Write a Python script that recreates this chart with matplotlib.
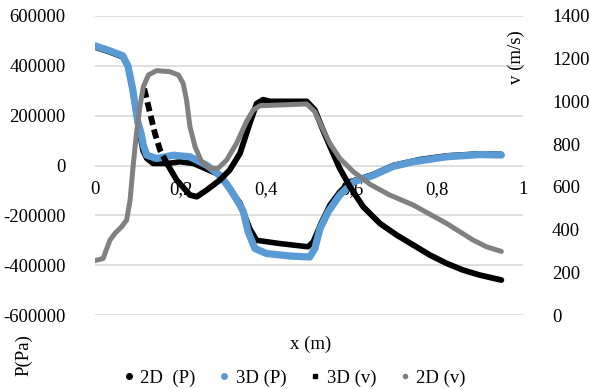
import numpy as np
import matplotlib
matplotlib.use("Agg")
import matplotlib.pyplot as plt
from matplotlib.lines import Line2D

plt.rcParams['font.family'] = ['Liberation Serif', 'DejaVu Serif']
plt.rcParams['font.size'] = 13.5

# 2D (P) - pressure, left axis (black, mostly under 3D (P))
x_p2d = [0.0, 0.035, 0.065, 0.077, 0.088, 0.100, 0.112, 0.121, 0.136, 0.168, 0.199, 0.230,
         0.284, 0.308, 0.331, 0.339, 0.362, 0.378, 0.432, 0.498, 0.510, 0.530, 0.549, 0.572,
         0.596, 0.650, 0.696, 0.759, 0.822, 0.900, 0.950]
p_2d = [475000, 455000, 435000, 395000, 300000, 170000, 60000, 28000, 8000, 8000, 15000, 8000,
        -32000, -72000, -132000, -150000, -253000, -300000, -313000, -326000, -306000, -226000,
        -159000, -106000, -65000, -36000, 0, 24000, 39000, 47000, 45000]

# 3D (P) - pressure, left axis (blue)
x_p3d = [0.0, 0.035, 0.065, 0.077, 0.088, 0.100, 0.109, 0.113, 0.121, 0.144, 0.183, 0.222,
         0.261, 0.292, 0.315, 0.339, 0.347, 0.358, 0.374, 0.401, 0.456, 0.502, 0.514, 0.526,
         0.545, 0.572, 0.604, 0.650, 0.696, 0.744, 0.822, 0.900, 0.950]
p_3d = [480000, 460000, 440000, 400000, 308000, 176000, 120000, 81500, 41400, 28100, 41400, 34900,
        1300, -39000, -92400, -159000, -186000, -266000, -333000, -353000, -363000, -367000,
        -333000, -253000, -186000, -119000, -65500, -40000, -4000, 15000, 35000, 44000, 42000]

# 3D (v) - velocity, right axis (black squares; sparse points at the start)
x_v3d_a = [0.115, 0.140, 0.152, 0.168]
v_3d_a = [1060, 851, 773, 710]
x_v3d_b = [0.168, 0.191, 0.222, 0.238, 0.261, 0.292, 0.315, 0.339, 0.362, 0.378, 0.393, 0.409,
           0.495, 0.514, 0.533, 0.553, 0.572, 0.596, 0.627, 0.666, 0.705, 0.744, 0.783, 0.822,
           0.860, 0.900, 0.950]
v_3d_b = [710, 632, 562, 554, 585, 632, 679, 757, 898, 990, 1008, 1000,
          1000, 960, 866, 773, 687, 601, 507, 429, 375, 328, 281, 242,
          211, 187, 164]

# 2D (v) - velocity, right axis (grey)
x_v2d = [0.0, 0.019, 0.035, 0.047, 0.062, 0.074, 0.082, 0.089, 0.097, 0.105, 0.113, 0.125,
         0.144, 0.175, 0.195, 0.206, 0.214, 0.222, 0.234, 0.249, 0.269, 0.288, 0.308, 0.331,
         0.354, 0.370, 0.386, 0.495, 0.514, 0.530, 0.549, 0.572, 0.604, 0.643, 0.689, 0.744,
         0.822, 0.853, 0.884, 0.915, 0.950]
v_2d = [255, 265, 351, 383, 413, 445, 538, 694, 851, 975, 1069, 1124,
        1144, 1139, 1124, 1085, 1007, 882, 788, 718, 687, 687, 726, 804,
        905, 960, 980, 988, 952, 882, 804, 734, 671, 612, 562, 515,
        429, 390, 351, 320, 298]

xticks = [0, 0.2, 0.4, 0.6, 0.8, 1.0]
xtick_labels = ["0", "0,2", "0,4", "0,6", "0,8", "1"]
p_ticks = [-600000, -400000, -200000, 0, 200000, 400000, 600000]
v_ticks = [0, 200, 400, 600, 800, 1000, 1200, 1400]

blue = '#5B9BD5'
grey = '#808080'

fig = plt.figure(figsize=(5.9, 3.89), dpi=100)
ax = fig.add_axes([0.161, 0.190, 0.725, 0.769])
ax2 = ax.twinx()

ax.set_xlim(0, 1)
ax.set_ylim(-600000, 600000)
ax2.set_ylim(0, 1400)

ax.set_yticks(p_ticks)
ax.set_yticklabels([str(t) for t in p_ticks])
ax2.set_yticks(v_ticks)
ax2.set_yticklabels([str(t) for t in v_ticks])
ax.set_xticks(xticks)
ax.set_xticklabels(xtick_labels)

for a in (ax, ax2):
    for s in a.spines.values():
        s.set_visible(False)
ax.spines['bottom'].set_position(('data', 0))
ax.tick_params(axis='x', length=0, pad=11)
ax.tick_params(axis='y', length=0, pad=21)
ax2.tick_params(axis='y', length=0, pad=21)
ax.grid(axis='y', color='#d9d9d9', linewidth=1.2)
ax.set_axisbelow(True)

ax.plot(x_p2d, p_2d, color='black', lw=4, solid_capstyle='round', zorder=2)
ax.plot(x_p3d, p_3d, color=blue, lw=5.2, solid_capstyle='round', zorder=3)
ax.set_zorder(1)
ax2.set_zorder(2)
ax2.patch.set_visible(False)
ax2.plot(x_v3d_a, v_3d_a, color='black', lw=4.2, linestyle=(0, (1.6, 0.8)), zorder=3)
ax2.plot(x_v3d_b, v_3d_b, color='black', lw=4.2, solid_capstyle='round', zorder=3)
ax2.plot(x_v2d, v_2d, color=grey, lw=3.6, solid_capstyle='round', zorder=4)

fig.text(0.04, 1 - 355 / 389, "P(Pa)", rotation=90, ha='center', va='center')
fig.text(0.876, 1 - 57 / 389, "v (m/s)", rotation=90, ha='center', va='center')
fig.text(0.526, 1 - 344 / 389, "x (m)", ha='center', va='center')

handles = [
    Line2D([], [], color='black', marker='o', linestyle='none', markersize=4),
    Line2D([], [], color=blue, marker='o', linestyle='none', markersize=4),
    Line2D([], [], color='black', marker='s', linestyle='none', markersize=3.5),
    Line2D([], [], color=grey, marker='o', linestyle='none', markersize=3),
]
labels = ["2D  (P)", "3D (P)", "3D (v)", "2D (v)"]
fig.legend(handles, labels, loc='center', bbox_to_anchor=(0.5, 1 - 378 / 389), ncol=4,
           frameon=False, handlelength=0.5, handletextpad=0.35, columnspacing=1.3,
           borderaxespad=0)

fig.savefig("out.png", dpi=100)
